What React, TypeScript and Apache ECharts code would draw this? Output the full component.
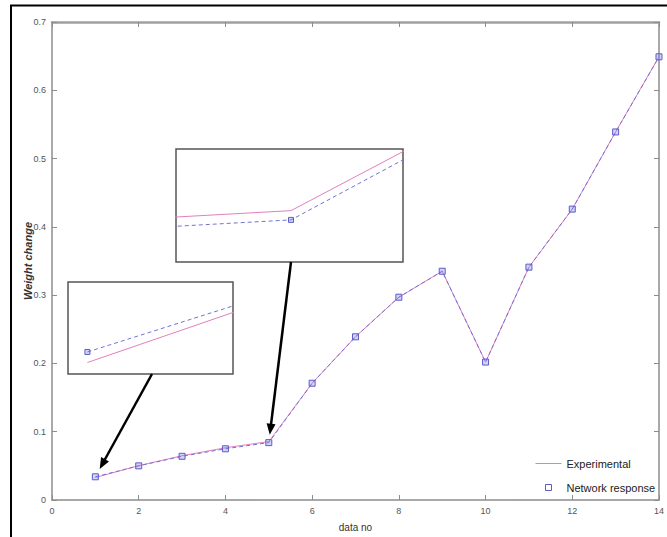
import { useEffect, useRef } from 'react';
import * as echarts from 'echarts';

const dataNo = [1, 2, 3, 4, 5, 6, 7, 8, 9, 10, 11, 12, 13, 14];
const experimental = [0.0329, 0.0503, 0.0648, 0.0765, 0.0855, 0.171, 0.239, 0.297, 0.335, 0.202, 0.341, 0.426, 0.539, 0.649];
const networkResponse = [0.034, 0.05, 0.064, 0.075, 0.084, 0.171, 0.239, 0.297, 0.335, 0.202, 0.341, 0.426, 0.539, 0.649];
const xTicks = [0, 2, 4, 6, 8, 10, 12, 14];
const yTicks = [0, 0.1, 0.2, 0.3, 0.4, 0.5, 0.6, 0.7];
const seriesNames = ['Experimental', 'Network response'];
const axisTitles = { x: 'data no', y: 'Weight change' };
// zoom windows of the two insets (data space)
const inset1Range = { x: [0.96, 1.3], y: [0.0317, 0.0413] };
const inset2Range = { x: [4.885, 5.112], y: [0.07717, 0.0955] };

const PINK = '#e27fbd';
const BLUE = '#7272d6';
const AXIS = '#8c8c8c';
const FONT = '"Liberation Sans Narrow", "Liberation Sans", Arial, sans-serif';

const pairs = (ys: number[]) => dataNo.map((x, i) => [x, ys[i]]);

export default function App() {
  const ref = useRef<HTMLDivElement>(null);
  useEffect(() => {
    const chart = echarts.init(ref.current!, null, { renderer: 'svg' });
    const main = { left: 52, top: 22, right: 3, bottom: 37 };
    const in1 = { left: 68, top: 282, width: 165, height: 92 };
    const in2 = { left: 176, top: 149, width: 227, height: 113 };
    const gridBox = {
      show: true,
      borderColor: '#555',
      borderWidth: 1.5,
      backgroundColor: '#fff',
    };
    const lineSeries = (idx: number, sym: number) => [
      {
        type: 'line',
        name: seriesNames[0],
        xAxisIndex: idx,
        yAxisIndex: idx,
        data: pairs(experimental),
        symbol: 'none',
        lineStyle: { color: PINK, width: 1 },
        itemStyle: { color: PINK },
        z: 2,
      },
      {
        type: 'line',
        name: seriesNames[1],
        xAxisIndex: idx,
        yAxisIndex: idx,
        data: pairs(networkResponse),
        symbol: 'rect',
        symbolSize: sym,
        showAllSymbol: true,
        lineStyle: { color: BLUE, width: 1, type: [4, 3] },
        itemStyle: { color: 'rgba(130,130,235,0.35)', borderColor: '#5c5cc8', borderWidth: 1 },
        z: 3,
      },
    ];
    const hiddenAxis = (grid: number, r: number[]) => ({
      gridIndex: grid,
      type: 'value',
      min: r[0],
      max: r[1],
      show: false,
    });
    const tickFmt = (v: number) => (v === 0 ? '0' : String(Math.round(v * 10) / 10));
    chart.setOption({
      animation: false,
      backgroundColor: '#fff',
      grid: [
        { ...main, show: false },
        { ...in1, ...gridBox },
        { ...in2, ...gridBox },
      ],
      xAxis: [
        {
          gridIndex: 0,
          type: 'value',
          min: xTicks[0],
          max: xTicks[xTicks.length - 1],
          interval: xTicks[1] - xTicks[0],
          position: 'bottom',
          axisLine: { onZero: false, lineStyle: { color: AXIS, width: 1.5 } },
          axisTick: { inside: true, length: 5, lineStyle: { color: AXIS } },
          axisLabel: { fontSize: 9, color: '#555', margin: 6, fontFamily: FONT },
          splitLine: { show: false },
          name: axisTitles.x,
          nameLocation: 'middle',
          nameGap: 22,
          nameMoveOverlap: false,
          nameTextStyle: { fontSize: 10, color: '#333', fontFamily: FONT },
        },
        {
          gridIndex: 0,
          type: 'value',
          min: xTicks[0],
          max: xTicks[xTicks.length - 1],
          interval: xTicks[1] - xTicks[0],
          position: 'top',
          axisLine: { onZero: false, lineStyle: { color: '#a0a0a0', width: 2.5 } },
          axisTick: { inside: true, length: 5, lineStyle: { color: AXIS } },
          axisLabel: { show: false },
          splitLine: { show: false },
        },
        hiddenAxis(1, inset1Range.x),
        hiddenAxis(2, inset2Range.x),
      ],
      yAxis: [
        {
          gridIndex: 0,
          type: 'value',
          min: yTicks[0],
          max: yTicks[yTicks.length - 1],
          interval: 0.1,
          position: 'left',
          axisLine: { show: true, onZero: false, lineStyle: { color: AXIS, width: 1.5 } },
          axisTick: { show: true, inside: true, length: 5, lineStyle: { color: AXIS } },
          axisLabel: { fontSize: 9, color: '#555', margin: 6, fontFamily: FONT, formatter: tickFmt },
          splitLine: { show: false },
          name: axisTitles.y,
          nameLocation: 'middle',
          nameGap: 19,
          nameMoveOverlap: false,
          nameTextStyle: {
            fontSize: 11,
            color: '#333',
            fontStyle: 'italic',
            fontWeight: 'bold',
            fontFamily: 'Liberation Sans, Arial, sans-serif',
          },
        },
        {
          gridIndex: 0,
          type: 'value',
          min: yTicks[0],
          max: yTicks[yTicks.length - 1],
          interval: 0.1,
          position: 'right',
          axisLine: { show: true, onZero: false, lineStyle: { color: AXIS, width: 1.5 } },
          axisTick: { show: true, inside: true, length: 5, lineStyle: { color: AXIS } },
          axisLabel: { show: false },
          splitLine: { show: false },
        },
        hiddenAxis(1, inset1Range.y),
        hiddenAxis(2, inset2Range.y),
      ],
      legend: {
        orient: 'vertical',
        left: 535,
        top: 458,
        padding: 0,
        itemWidth: 26,
        itemHeight: 8,
        itemGap: 13,
        textStyle: { fontSize: 11, color: '#222', fontFamily: FONT },
        data: [
          {
            name: seriesNames[0],
            icon: 'path://M0,0L0.01,0M0,3.5L26,3.5L26,4.5L0,4.5ZM26,8L26.01,8',
            itemStyle: { color: PINK, borderWidth: 0 },
          },
          {
            name: seriesNames[1],
            icon: 'path://M0,0L0.01,0M10,1L16,1L16,7L10,7ZM26,8L26.01,8',
            itemStyle: { color: 'rgba(0,0,0,0)', borderColor: '#5c5cc8', borderWidth: 1 },
          },
        ],
      },
      series: [...lineSeries(0, 6), ...lineSeries(2, 5), ...lineSeries(3, 5)],
    });

    const arrow = (tail: number[], target: number[], gap: number) => {
      const dx = target[0] - tail[0];
      const dy = target[1] - tail[1];
      const len = Math.hypot(dx, dy);
      const ux = dx / len;
      const uy = dy / len;
      const tip = [target[0] - ux * gap, target[1] - uy * gap];
      const headLen = 11;
      const half = 4.5;
      const base = [tip[0] - ux * headLen, tip[1] - uy * headLen];
      return [
        {
          type: 'line',
          shape: { x1: tail[0], y1: tail[1], x2: base[0] + ux * 2, y2: base[1] + uy * 2 },
          style: { stroke: '#000', lineWidth: 2.5 },
          z: 10,
        },
        {
          type: 'polygon',
          shape: {
            points: [
              tip,
              [base[0] - uy * half, base[1] + ux * half],
              [base[0] + uy * half, base[1] - ux * half],
            ],
          },
          style: { fill: '#000' },
          z: 10,
        },
      ];
    };
    const p1 = chart.convertToPixel({ gridIndex: 0 }, [dataNo[0], networkResponse[0]]) as number[];
    const p5 = chart.convertToPixel({ gridIndex: 0 }, [dataNo[4], networkResponse[4]]) as number[];
    const p5in = chart.convertToPixel({ gridIndex: 2 }, [dataNo[4], networkResponse[4]]) as number[];
    const tail1 = [in1.left + 84, in1.top + in1.height];
    const tail2 = [p5in[0], in2.top + in2.height];
    chart.setOption({
      graphic: [
        ...arrow(tail1, p1, 9),
        ...arrow(tail2, p5, 8),
        {
          type: 'line',
          shape: { x1: 10, y1: 5.5, x2: 667, y2: 5.5 },
          style: { stroke: '#000', lineWidth: 2 },
        },
        {
          type: 'line',
          shape: { x1: 11, y1: 5, x2: 11, y2: 537 },
          style: { stroke: '#000', lineWidth: 2 },
        },
      ],
    });
    return () => chart.dispose();
  }, []);
  return (
    <div
      ref={ref}
      style={{ position: 'fixed', left: 0, top: 0, width: 667, height: 537, background: '#fff' }}
    />
  );
}
